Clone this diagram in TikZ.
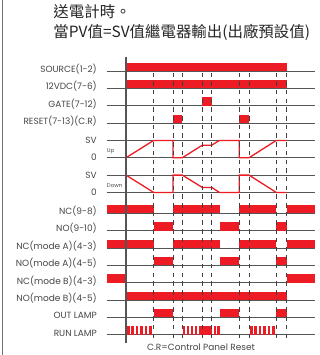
\documentclass[tikz,border=0pt]{standalone}
\usepackage{fontspec}
\setmainfont{Poppins}
\newfontfamily\cjk{Noto Sans CJK TC}
\definecolor{rd}{RGB}{237,28,36}
\definecolor{ln}{RGB}{85,85,85}
\definecolor{tx}{RGB}{70,70,70}
\begin{document}
\begin{tikzpicture}[x=1bp,y=-1bp,
  rowline/.style={draw=ln,line width=0.8bp},
  bar/.style={fill=rd},
  sig/.style={draw=rd,line width=1.3bp,line join=miter},
  tickline/.style={draw=black!75,line width=0.8bp,dash pattern=on 4.5bp off 4.2bp},
  axisline/.style={draw=ln,line width=1.1bp},
  lbl/.style={anchor=base east,font=\fontsize{9}{10}\selectfont,text=tx,inner sep=0pt},
  small/.style={anchor=base west,font=\fontsize{5.5}{6}\selectfont,text=tx,inner sep=0pt},
  ttl/.style={anchor=base west,font=\cjk\fontsize{15.5}{18}\selectfont,text=black!85,inner sep=0pt}
]
\useasboundingbox (0,0) rectangle (320,355);
\fill[white] (0,0) rectangle (320,355);
% left frame
\draw[draw=black!55,line width=1bp] (2.5,0) -- (2.5,355);
% title
\node[ttl] (t1) at (53.3,17.8) {送電計時。};
\node[ttl] (t2) at (53.3,37.8) {當PV值=SV值繼電器輸出(出廠預設值)};
% row lines
\foreach \y in {71,88.35,105.7,123.05,140.4,157.75,175.1,192.45,213.3,230.65,248,265.35,282.7,300.05,317.4,334.75}
  \draw[rowline] (107,\y) -- (315,\y);
% bars (height 8.3)
\def\bh{8.3}
% SOURCE, 12VDC
\fill[bar] (126,71) rectangle (286.5,71-\bh);
\fill[bar] (126,88.35) rectangle (286.5,88.35-\bh);
% GATE
\fill[bar] (202.3,105.7) rectangle (211.7,105.7-\bh);
% RESET
\fill[bar] (173,123.05) rectangle (182.3,123.05-\bh);
\fill[bar] (239.3,123.05) rectangle (249,123.05-\bh);
% NC(9-8) and NC(mode A)
\foreach \y in {213.3,248}{
  \fill[bar] (107,\y) rectangle (153.7,\y-\bh);
  \fill[bar] (173,\y) rectangle (219.5,\y-\bh);
  \fill[bar] (239.3,\y) rectangle (276.3,\y-\bh);
  \fill[bar] (286.5,\y) rectangle (315,\y-\bh);
}
% NO(9-10), NO(mode A), OUT LAMP
\foreach \y in {230.65,265.35,317.4}{
  \fill[bar] (153.7,\y) rectangle (173,\y-\bh);
  \fill[bar] (219.5,\y) rectangle (239.3,\y-\bh);
  \fill[bar] (276.3,\y) rectangle (286.5,\y-\bh);
}
% NC(mode B)
\fill[bar] (107,282.7) rectangle (126,282.7-\bh);
\fill[bar] (286.5,282.7) rectangle (315,282.7-\bh);
% NO(mode B)
\fill[bar] (126,300.05) rectangle (286.5,300.05-\bh);
% RUN LAMP
\foreach \x in {127,131.4,135.8,140.2,144.6,149}
  \fill[bar] (\x,334.75) rectangle (\x+2.6,334.75-\bh);
\foreach \x in {183,187,191,195,213.5,217.3}
  \fill[bar] (\x,334.75) rectangle (\x+2.4,334.75-\bh);
\fill[bar] (199,334.75) rectangle (212.2,334.75-\bh);
\foreach \x in {250,254.4,258.8,263.2,267.6,272}
  \fill[bar] (\x,334.75) rectangle (\x+2.6,334.75-\bh);
% counting signals
\draw[sig] (126,157.75) -- (153.7,140.4) -- (173,140.4) -- (173,157.75) -- (182.3,157.75)
  -- (202.3,145.2) -- (211.7,145.2) -- (219.5,140.4) -- (239.3,140.4) -- (239.3,157.75)
  -- (249,157.75) -- (276.3,140.4) -- (286.5,140.4);
\draw[sig] (126,175.1) -- (153.7,192.45) -- (173,192.45) -- (173,175.1) -- (182.3,175.1)
  -- (202.3,187.4) -- (211.7,187.4) -- (219.5,192.45) -- (239.3,192.45) -- (239.3,175.1)
  -- (249,175.1) -- (276.3,192.45) -- (286.5,192.45);
% dashed time markers
\foreach \x in {153.7,173,182.3,202.3,211.7,239.3,249,276.3,286.5}
  \draw[tickline] (\x,72.5) -- (\x,339);
% axis
\draw[axisline] (126,57) -- (126,343);
% labels
\node[lbl] (l1) at (97,72.5) {SOURCE(1-2)};
\node[lbl] (l2) at (97,89.85) {12VDC(7-6)};
\node[lbl] (l3) at (97,107.2) {GATE(7-12)};
\node[lbl] (l4) at (97,124.55) {RESET(7-13)(C.R)};
\node[lbl] (l5) at (97,143.4) {SV};
\node[lbl] (l6) at (97,160.75) {0};
\node[lbl] (l7) at (97,178.1) {SV};
\node[lbl] (l8) at (97,195.45) {0};
\node[small] (up) at (106.7,152) {Up};
\node[small] (dn) at (106.7,187) {Down};
\node[lbl] (l9) at (97,214.6) {NC(9-8)};
\node[lbl] (l10) at (97,231.95) {NO(9-10)};
\node[lbl] (l11) at (97,249.3) {NC(mode A)(4-3)};
\node[lbl] (l12) at (97,266.65) {NO(mode A)(4-5)};
\node[lbl] (l13) at (97,284) {NC(mode B)(4-3)};
\node[lbl] (l14) at (97,301.35) {NO(mode B)(4-5)};
\node[lbl] (l15) at (97,318.7) {OUT LAMP};
\node[lbl] (l16) at (97,336.05) {RUN LAMP};
\node[anchor=base,font=\fontsize{9}{10}\selectfont,text=tx,inner sep=0pt] (cap) at (201,350.5) {C.R=Control Panel Reset};
\end{tikzpicture}
\end{document}
